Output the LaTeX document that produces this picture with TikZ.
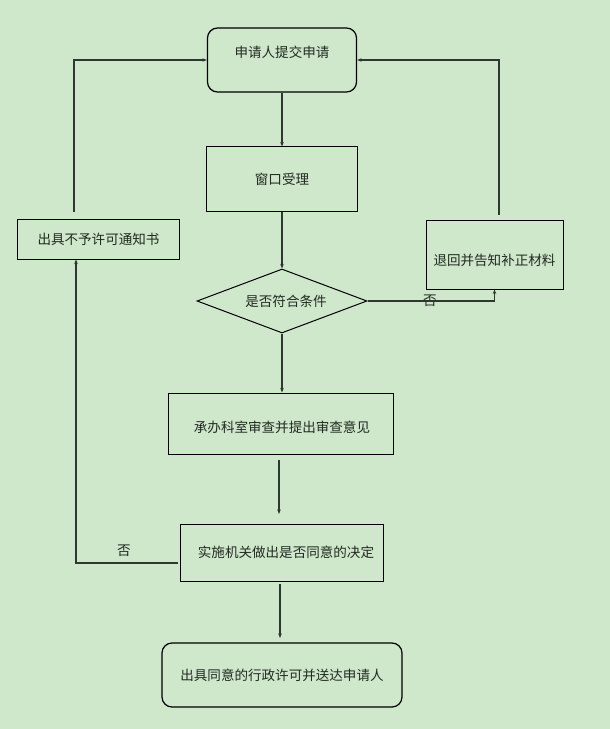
\documentclass[tikz,border=0pt]{standalone}
\usepackage{fontspec}
\newfontfamily\cjk{Noto Sans CJK SC}
\usetikzlibrary{shapes.geometric,arrows.meta}
\definecolor{bg}{HTML}{CFE7CB}
\definecolor{ln}{HTML}{2F382F}
\definecolor{tx}{HTML}{222A22}
\begin{document}
\begin{tikzpicture}[x=1bp,y=-1bp,
  every node/.style={font=\cjk\fontsize{13.6}{15}\selectfont, text=tx},
  box/.style={draw=black, line width=1bp, rectangle, inner sep=0pt},
  rbox/.style={box, rounded corners=10bp, line width=1.2bp},
  dia/.style={draw=black, line width=1bp, diamond, aspect=2.65, inner sep=0pt},
  arr/.style={draw=ln, line width=1.2bp, -{Stealth[length=4.5bp,width=3.5bp]}},
  lbl/.style={inner sep=0pt}]
\fill[bg] (0,0) rectangle (610,729);
\useasboundingbox (0,0) rectangle (610,729);

\node[rbox, minimum width=149bp, minimum height=64bp] (n1) at (282,60) {};
\node[lbl] (t1) at (282,52) {申请人提交申请};
\node[box, minimum width=151bp, minimum height=64bp] (n2) at (282,179) {窗口受理};
\node[dia, minimum width=170bp, minimum height=64bp] (d) at (282,301) {};
\node[lbl] (td) at (286,301) {是否符合条件};
\node[box, minimum width=162bp, minimum height=40bp] (lb) at (98.5,239) {出具不予许可通知书};
\node[box, minimum width=137bp, minimum height=69bp] (rb) at (494.5,254.5) {};
\node[lbl] (trb) at (494.5,260) {退回并告知补正材料};
\node[box, minimum width=225bp, minimum height=61bp] (b3) at (280.5,423.5) {};
\node[lbl] (t3) at (282,427) {承办科室审查并提出审查意见};
\node[box, minimum width=203bp, minimum height=57bp] (b4) at (281.5,552.5) {};
\node[lbl] (t4) at (286,552) {实施机关做出是否同意的决定};
\node[rbox, minimum width=240bp, minimum height=64bp] (fin) at (282,675) {出具同意的行政许可并送达申请人};

\node[lbl] (no1) at (430,301) {否};
\node[lbl] (no2) at (124,551) {否};

\draw[arr] (n1) -- (n2);
\draw[arr] (n2) -- (d);
\draw[arr] (d.east) -| (rb.south);
\draw[arr] ([xshift=4.5bp,yshift=5bp]rb.north) |- (n1.east);
\draw[arr] ([xshift=-24.5bp,yshift=7bp]lb.north) |- (n1.west);
\draw[arr] (d.south) -- (d.south |- b3.north);
\coordinate (c3s) at (279,460);
\coordinate (c4n) at (279,514);
\draw[arr] (c3s) -- (c4n);
\coordinate (c4s) at (280,584);
\coordinate (cfn) at (280,638);
\draw[arr] (c4s) -- (cfn);
\coordinate (c4w) at (178,563);
\draw[arr] (c4w) -| ([xshift=-22.5bp]lb.south);
\end{tikzpicture}
\end{document}
